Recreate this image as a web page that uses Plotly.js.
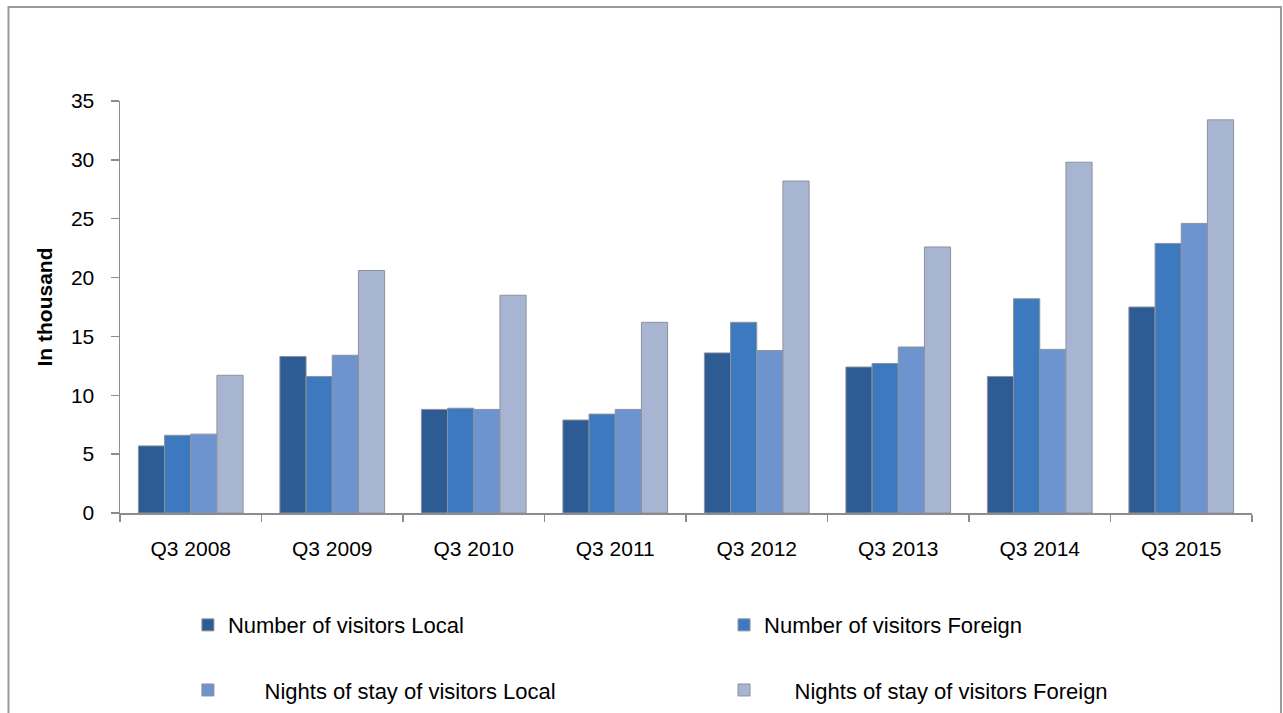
<!DOCTYPE html>
<html>
<head>
<meta charset="utf-8">
<script src="https://cdn.plot.ly/plotly-3.0.1.min.js"></script>
<style>
html,body{margin:0;padding:0;background:#fff;}
#chart{width:1283px;height:713px;}
</style>
</head>
<body>
<div id="chart"></div>
<script>
const categories = ["Q3 2008","Q3 2009","Q3 2010","Q3 2011","Q3 2012","Q3 2013","Q3 2014","Q3 2015"];
const visitorsLocal   = [5.7, 13.3, 8.8, 7.9, 13.6, 12.4, 11.6, 17.5];
const visitorsForeign = [6.6, 11.6, 8.9, 8.4, 16.2, 12.7, 18.2, 22.9];
const nightsLocal     = [6.7, 13.4, 8.8, 8.8, 13.8, 14.1, 13.9, 24.6];
const nightsForeign   = [11.7, 20.6, 18.5, 16.2, 28.2, 22.6, 29.8, 33.4];
const seriesNames = ["Number of visitors Local","Number of visitors Foreign","Nights of stay of visitors Local","Nights of stay of visitors Foreign"];
const yTitle = "In thousand";

const FONT = "Liberation Sans, Arial, sans-serif";
const colors = ["#2D5B93","#3C79BF","#6E94CF","#A7B5D3"];
const values = [visitorsLocal, visitorsForeign, nightsLocal, nightsForeign];
const prefixes = ["", "", "\u00a0\u00a0\u00a0\u00a0\u00a0\u00a0", "\u00a0\u00a0\u00a0\u00a0\u00a0"];
const legendIds = ["legend","legend2","legend3","legend4"];
const legendX = [0.06, 0.5336, 0.06, 0.5336];
const legendY = [-0.272, -0.272, -0.43, -0.43];

const traces = values.map((v,i)=>({
  type:"bar",
  x:categories,
  y:v,
  name:prefixes[i]+seriesNames[i],
  legend:legendIds[i],
  marker:{color:colors[i], line:{color:"#8C929C", width:1}},
  hoverinfo:"x+y"
}));

const layout = {
  width:1283, height:713,
  margin:{l:120, r:31, t:101, b:200, autoexpand:false},
  paper_bgcolor:"#fff", plot_bgcolor:"#fff",
  barmode:"group",
  bargap:0.26, bargroupgap:0,
  showlegend:true,
  font:{family:FONT, size:21, color:"#000"},
  xaxis:{
    type:"category",
    showline:true, linecolor:"#8C8C8C", linewidth:1.5,
    ticks:"outside", tickson:"boundaries", ticklen:7, tickcolor:"#8C8C8C", tickwidth:1.5,
    showgrid:false, zeroline:false,
    tickfont:{family:FONT, size:21, color:"#000"},
    ticklabelstandoff:16
  },
  yaxis:{
    range:[0,35], dtick:5, tick0:0,
    showline:true, linecolor:"#8C8C8C", linewidth:1.5,
    ticks:"outside", ticklen:8, tickcolor:"#8C8C8C", tickwidth:1.5,
    showgrid:false, zeroline:false,
    tickfont:{family:FONT, size:21, color:"#000"},
    ticklabelstandoff:12,
    title:{text:"<b>"+yTitle+"</b>", font:{family:FONT, size:21, color:"#000"}, standoff:12}
  },
  shapes:[{
    type:"path", xref:"paper", yref:"paper",
    path:"M -0.0985,-0.6 L -0.0985,1.228 L 1.0256,1.228 L 1.0256,-0.6",
    line:{color:"#9A9A9A", width:2}
  }]
};

legendIds.forEach((id,i)=>{
  layout[id] = {
    orientation:"h",
    x:legendX[i], xanchor:"left",
    y:legendY[i], yanchor:"middle",
    font:{family:FONT, size:22, color:"#000"},
    bgcolor:"rgba(0,0,0,0)",
    itemclick:false
  };
});

Plotly.newPlot("chart", traces, layout, {displayModeBar:false, staticPlot:true});
</script>
</body>
</html>
